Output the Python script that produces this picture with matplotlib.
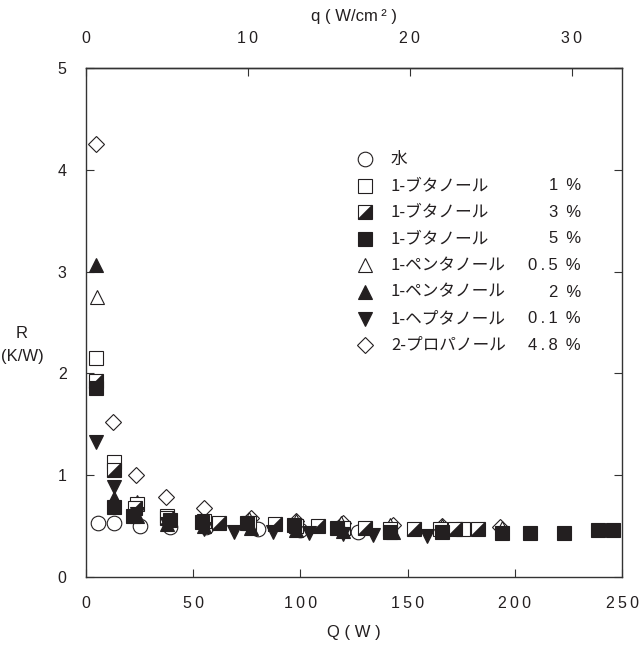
import matplotlib
matplotlib.use("Agg")
import matplotlib.pyplot as plt
from matplotlib.path import Path
import numpy as np

# ---- data ----
water_Q = [5.5, 13, 25, 39, 56, 80, 100, 127]
water_R = [0.53, 0.53, 0.50, 0.49, 0.49, 0.47, 0.46, 0.44]

but1_Q = [4.5, 13, 24, 38, 55, 76, 98, 120, 142, 165, 176]
but1_R = [2.15, 1.13, 0.72, 0.60, 0.55, 0.53, 0.50, 0.48, 0.47, 0.47, 0.47]

but3_Q = [4.5, 13, 23, 38, 62, 88, 108, 130, 153, 172, 183]
but3_R = [1.93, 1.05, 0.68, 0.58, 0.53, 0.52, 0.50, 0.48, 0.47, 0.47, 0.47]

but5_Q = [4.5, 13, 22, 39, 54, 75, 97, 117, 142, 166, 194, 207, 223, 239, 246]
but5_R = [1.86, 0.69, 0.60, 0.56, 0.54, 0.53, 0.51, 0.48, 0.44, 0.44, 0.43, 0.43, 0.43, 0.46, 0.46]

pent05_Q = [5, 24, 38, 55, 76, 98, 119, 142, 166, 194]
pent05_R = [2.75, 0.74, 0.60, 0.55, 0.57, 0.55, 0.53, 0.51, 0.50, 0.48]

pent2_Q = [4.7, 13, 24, 38, 55, 77, 98, 120, 143]
pent2_R = [3.06, 0.78, 0.60, 0.52, 0.50, 0.48, 0.46, 0.45, 0.44]

hept_Q = [4.7, 13, 24, 38, 55, 69, 87, 104, 120, 134, 159]
hept_R = [1.33, 0.88, 0.62, 0.52, 0.47, 0.44, 0.44, 0.43, 0.42, 0.41, 0.40]

prop_Q = [4.7, 12.5, 23.5, 37.5, 55, 77, 98, 120, 143, 166, 193]
prop_R = [4.25, 1.52, 1.00, 0.79, 0.68, 0.58, 0.55, 0.53, 0.51, 0.50, 0.49]

legend_names = ["水", "1-ブタノール", "1-ブタノール", "1-ブタノール",
                "1-ペンタノール", "1-ペンタノール", "1-ヘプタノール", "2-プロパノール"]
legend_pcts = ["", "1 %", "3 %", "5 %", "0.5 %", "2 %", "0.1 %", "4.8 %"]

x_ticks = [0, 50, 100, 150, 200, 250]
y_ticks = [0, 1, 2, 3, 4, 5]
q_ticks = [0, 10, 20, 30]
AREA = 7.55  # cm^2, Q -> q conversion

# ---- style ----
NUM = ['Liberation Sans', 'DejaVu Sans']
JP = ['Noto Sans CJK JP', 'DejaVu Sans']
FS = 11.5
LFS = 12
DARK = '#231f20'
EDGE = '#231f20'
TXT = '#231f20'
MS = 10.5
MEW = 0.8
TS = '\u2009'

def spaced(s):
    return TS.join(s)

def spaced_pct(s):
    num = s.replace(' %', '')
    return TS.join(num) + ' ' + TS + '%'

tri_path = Path([(-1, -1), (1, -1), (1, 1), (-1, -1)],
                [Path.MOVETO, Path.LINETO, Path.LINETO, Path.CLOSEPOLY])

fig = plt.figure(figsize=(6.41, 6.45), dpi=100)
ax = fig.add_axes([86/641, (645-577)/645, 536/641, 509/645])

def mk(Q, R, marker, fill, ms=MS, **kw):
    ax.plot(Q, R, linestyle='none', marker=marker, markersize=ms,
            markerfacecolor=fill, markeredgecolor=EDGE, markeredgewidth=MEW,
            clip_on=False, **kw)

# open markers first
mk(water_Q, water_R, 'o', 'white')
mk(prop_Q, prop_R, 'D', 'white', ms=MS*0.75)
mk(pent05_Q, pent05_R, '^', 'white')
mk(but1_Q, but1_R, 's', 'white')
mk(but3_Q, but3_R, 's', 'white')
ax.plot(but3_Q, but3_R, linestyle='none', marker=tri_path, markersize=MS,
        markerfacecolor=DARK, markeredgecolor=DARK, markeredgewidth=0.3)
mk(hept_Q, hept_R, 'v', DARK)
mk(pent2_Q, pent2_R, '^', DARK)
mk(but5_Q, but5_R, 's', DARK)

ax.set_xlim(0, 250)
ax.set_ylim(0, 5)
ax.set_xticks(x_ticks)
ax.set_xticklabels([spaced(str(v)) for v in x_ticks], fontfamily=NUM, fontsize=FS, color=TXT)
ax.set_yticks(y_ticks)
ax.set_yticklabels([str(v) for v in y_ticks], fontfamily=NUM, fontsize=FS, color=TXT)
ax.tick_params(axis='both', direction='in', length=6, width=0.8, color='#333333')
ax.tick_params(axis='x', pad=14)
ax.tick_params(axis='y', pad=14, right=True)
for s in ax.spines.values():
    s.set_linewidth(1.0)
    s.set_color('#333333')

sec = ax.secondary_xaxis('top', functions=(lambda x: x / AREA, lambda q: q * AREA))
sec.set_xticks(q_ticks)
sec.set_xticklabels([spaced(str(v)) for v in q_ticks], fontfamily=NUM, fontsize=FS, color=TXT)
sec.tick_params(direction='in', length=6, width=0.8, pad=16, color='#333333')
sec.spines['top'].set_linewidth(1.0)
sec.spines['top'].set_color('#333333')

fig.text(354/641, 1 - 632/645, "Q ( W )", ha='center', va='center',
         fontfamily=NUM, fontsize=LFS, color=TXT)
fig.text(354/641, 1 - 17/645, "q ( W/cm" + TS + "² )", ha='center', va='center',
         fontfamily=NUM, fontsize=LFS, color=TXT)
fig.text(22/641, 1 - 333/645, "R", ha='center', va='center', fontfamily=NUM, fontsize=LFS, color=TXT)
fig.text(22/641, 1 - 356/645, "(K/W)", ha='center', va='center', fontfamily=NUM, fontsize=LFS, color=TXT)

# ---- manual legend ----
styles = [('o', 'white', MS), ('s', 'white', MS), ('half', None, MS), ('s', DARK, MS),
          ('^', 'white', MS), ('^', DARK, MS), ('v', DARK, MS), ('D', 'white', MS*0.75)]
y0, dy = 159, 26.6
for i, (name, pct, st) in enumerate(zip(legend_names, legend_pcts, styles)):
    ypx = y0 + i * dy
    yf = 1 - ypx / 645
    xm = 365 / 641
    m, f, ms = st
    if m == 'half':
        fig.lines.append(plt.Line2D([xm], [yf], transform=fig.transFigure, marker='s',
                                    markersize=ms, markerfacecolor='white',
                                    markeredgecolor=EDGE, markeredgewidth=MEW, linestyle='none'))
        fig.lines.append(plt.Line2D([xm], [yf], transform=fig.transFigure, marker=tri_path,
                                    markersize=ms, markerfacecolor=DARK,
                                    markeredgecolor=DARK, markeredgewidth=0.3, linestyle='none'))
    else:
        fig.lines.append(plt.Line2D([xm], [yf], transform=fig.transFigure, marker=m,
                                    markersize=ms, markerfacecolor=f,
                                    markeredgecolor=EDGE, markeredgewidth=MEW, linestyle='none'))
    fig.text(391/641, yf, name, ha='left', va='center', fontfamily=JP, fontsize=LFS, color=TXT)
    if pct:
        fig.text(581/641, yf, spaced_pct(pct), ha='right', va='center', fontfamily=NUM,
                 fontsize=LFS, color=TXT)

fig.savefig("out.png", dpi=100)
